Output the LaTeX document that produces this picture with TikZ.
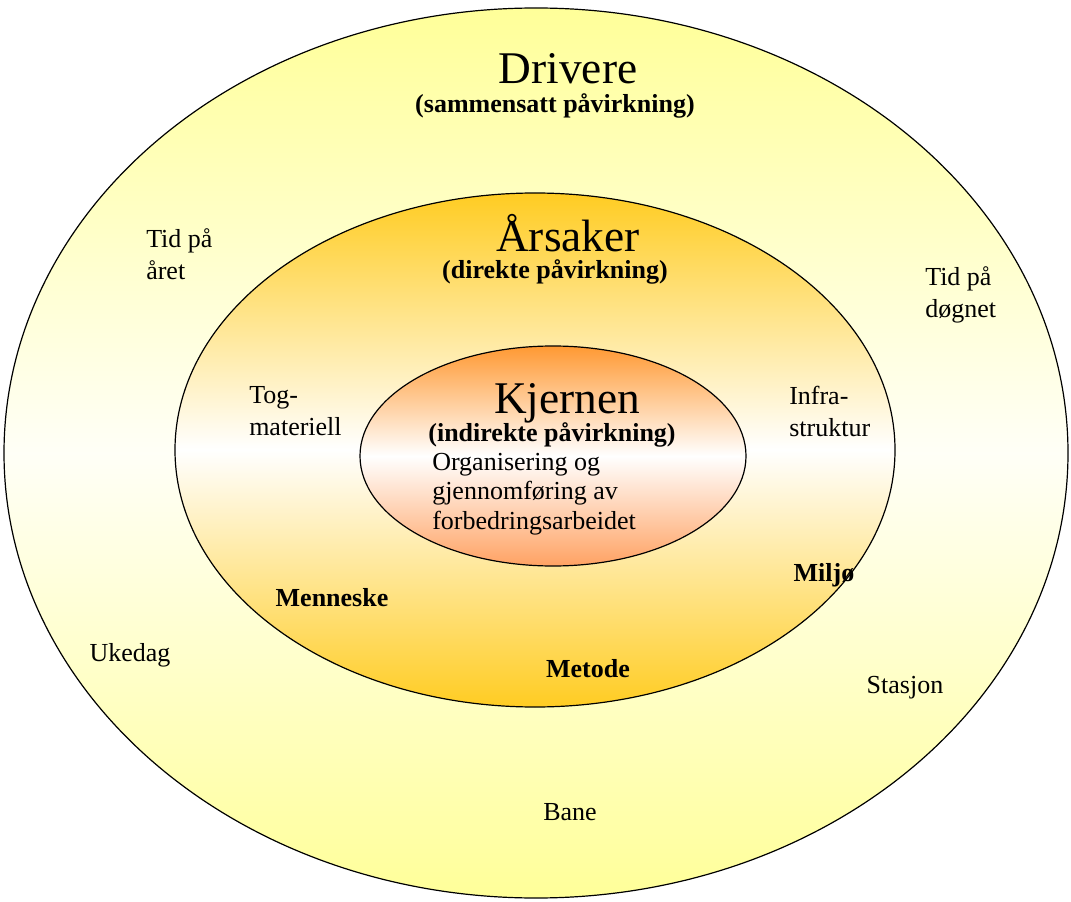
\documentclass[tikz,border=0pt]{standalone}
\usepackage{fontspec}
\setmainfont{Liberation Serif}
\usetikzlibrary{shapes.geometric, positioning}
\definecolor{paleyellow}{HTML}{FFFF99}
\definecolor{gold}{HTML}{FFCC22}
\definecolor{deeporange}{HTML}{FF9933}
\definecolor{softorange}{HTML}{FFA263}
\tikzset{
    ring/.style = {ellipse, draw, line width=0.9pt, inner sep=0pt}, % the three nested fields
    title/.style = {font=\fontsize{34}{40}\selectfont, inner sep=0pt, anchor=base},
    sub/.style = {font=\fontsize{19.5}{23}\selectfont\bfseries, inner sep=0pt},
    lbl/.style = {font=\fontsize{19.5}{24}\selectfont, align=left, inner sep=0pt},
    key/.style = {font=\fontsize{19.5}{23}\selectfont\bfseries, inner sep=0pt}
}
\begin{document}
\begin{tikzpicture}[x=0.75pt, y=-0.75pt]
\useasboundingbox (0,0) rectangle (1071,902);

% fields
\node[ring, minimum width=798pt, minimum height=667.5pt,
      top color=paleyellow, bottom color=paleyellow, middle color=paleyellow!8] (drivere) at (536,453) {};
\node[ring, minimum width=540pt, minimum height=385.5pt,
      top color=gold, bottom color=gold, middle color=white] (aarsaker) at (535,450) {};
\node[ring, minimum width=289.5pt, minimum height=165pt,
      top color=deeporange, bottom color=softorange, middle color=white] (kjernen) at (553,456) {};

% headings
\node[title] (tdrivere) at (568,84) {Drivere};
\node[sub] (sdrivere) at (555,106) {(sammensatt påvirkning)};
\node[title] (taarsaker) at (568,252) {Årsaker};
\node[sub] (saarsaker) at (555,272) {(direkte påvirkning)};
\node[title] (tkjernen) at (567,413) {Kjernen};
\node[sub] (skjernen) at (552,435) {(indirekte påvirkning)};
\node[lbl, anchor=west, font=\fontsize{19.5}{22.2}\selectfont] (org) at (432,494)
    {Organisering og\\gjennomføring av\\forbedringsarbeidet};

% drivers
\node[lbl, anchor=west] (aaret) at (146,254) {Tid på\\året};
\node[lbl, anchor=west] (dognet) at (925,295) {Tid på\\døgnet};
\node[lbl] (ukedag) at (130,655) {Ukedag};
\node[lbl] (stasjon) at (905,688) {Stasjon};
\node[lbl] (bane) at (570,812) {Bane};

% causes
\node[lbl, anchor=west] (tog) at (249,411) {Tog-\\materiell};
\node[lbl, anchor=west] (infra) at (789,411) {Infra-\\struktur};
\node[key] (menneske) at (332,598) {Menneske};
\node[key] (miljo) at (824,575) {Miljø};
\node[key] (metode) at (588,669) {Metode};
\end{tikzpicture}
\end{document}
